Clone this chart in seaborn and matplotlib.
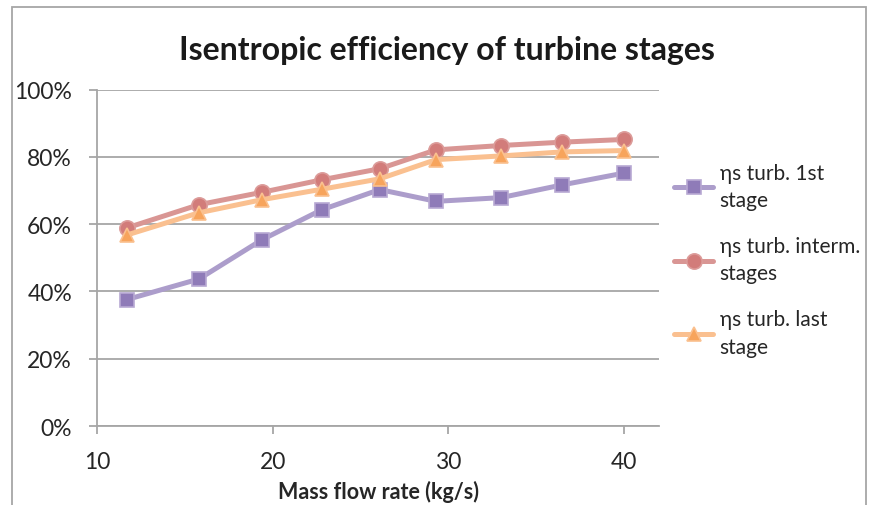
import matplotlib

matplotlib.use("Agg")
import matplotlib.pyplot as plt
import pandas as pd
import seaborn as sns
from matplotlib.patches import Rectangle
from matplotlib.ticker import PercentFormatter

mass_flow = [11.7, 15.8, 19.4, 22.8, 26.1, 29.3, 33.0, 36.5, 40.0]
eff_first = [0.376, 0.437, 0.554, 0.643, 0.703, 0.668, 0.679, 0.717, 0.752]
eff_interm = [0.589, 0.658, 0.695, 0.732, 0.765, 0.821, 0.834, 0.844, 0.852]
eff_last = [0.568, 0.634, 0.673, 0.704, 0.735, 0.792, 0.803, 0.815, 0.819]
labels = ["ηs turb. 1st\nstage", "ηs turb. interm.\nstages", "ηs turb. last\nstage"]

frames = []
for lab, vals in zip(labels, [eff_first, eff_interm, eff_last]):
    frames.append(pd.DataFrame({"x": mass_flow, "y": vals, "series": lab}))
df = pd.concat(frames, ignore_index=True)

sns.set_style("white")
plt.rcParams["font.family"] = ["Lato", "DejaVu Sans"]

line_cols = ["#AC9DCB", "#D99694", "#FAC090"]
mark_cols = ["#8F7BB8", "#D27C7A", "#F7A45C"]
edge_cols = ["#B8A9D3", "#DC9C9A", "#FAC08F"]
markers = ["s", "o", "^"]

fig = plt.figure(figsize=(8.7, 5.06), dpi=100)
ax = fig.add_axes([0.1115, 0.1561, 0.646, 0.6647])

for i, lab in enumerate(labels):
    sns.lineplot(
        data=df[df["series"] == lab],
        x="x",
        y="y",
        ax=ax,
        color=line_cols[i],
        linewidth=3.6,
        marker=markers[i],
        markersize=10.5 if markers[i] != "o" else 11,
        markerfacecolor=mark_cols[i],
        markeredgecolor=edge_cols[i],
        markeredgewidth=1.2,
        label=lab,
    )

ax.set_xlim(10, 42)
ax.set_ylim(0, 1)
ax.set_xticks([10, 20, 30, 40])
ax.set_yticks([0, 0.2, 0.4, 0.6, 0.8, 1.0])
ax.yaxis.set_major_formatter(PercentFormatter(1.0, decimals=0))
ax.grid(axis="y", color="#A6A6A6", linewidth=1.3)
ax.set_axisbelow(True)
for s in ["top", "right"]:
    ax.spines[s].set_visible(False)
for s in ["left", "bottom"]:
    ax.spines[s].set_color("#A6A6A6")
    ax.spines[s].set_linewidth(1.3)
ax.tick_params(axis="both", which="major", direction="out", length=6,
               width=1.3, color="#A6A6A6", labelsize=16.5, labelcolor="#262626",
               left=True, bottom=True)
ax.tick_params(axis="y", pad=12)
ax.tick_params(axis="x", pad=12)
ax.set_xlabel("Mass flow rate (kg/s)", fontsize=15.5, fontweight="bold",
              color="#262626", labelpad=6)
ax.set_ylabel("")

fig.text(0.514, 0.90, "Isentropic efficiency of turbine stages", ha="center",
         va="center", fontsize=23, fontweight="bold", color="#1a1a1a")

leg = ax.legend(loc="upper left", bbox_to_anchor=(0.753, 0.713),
                bbox_transform=fig.transFigure, frameon=False, fontsize=15,
                handlelength=1.9, handletextpad=0.3, labelspacing=1.25,
                labelcolor="#262626")
for t in leg.get_texts():
    t.set_linespacing(1.45)

fig.patches.append(Rectangle((12 / 870, -0.05), 854 / 870, 1 - 8 / 506 + 0.05,
                             transform=fig.transFigure, fill=False,
                             edgecolor="#A6A6A6", linewidth=1.3))

fig.savefig("out.png", dpi=100)
